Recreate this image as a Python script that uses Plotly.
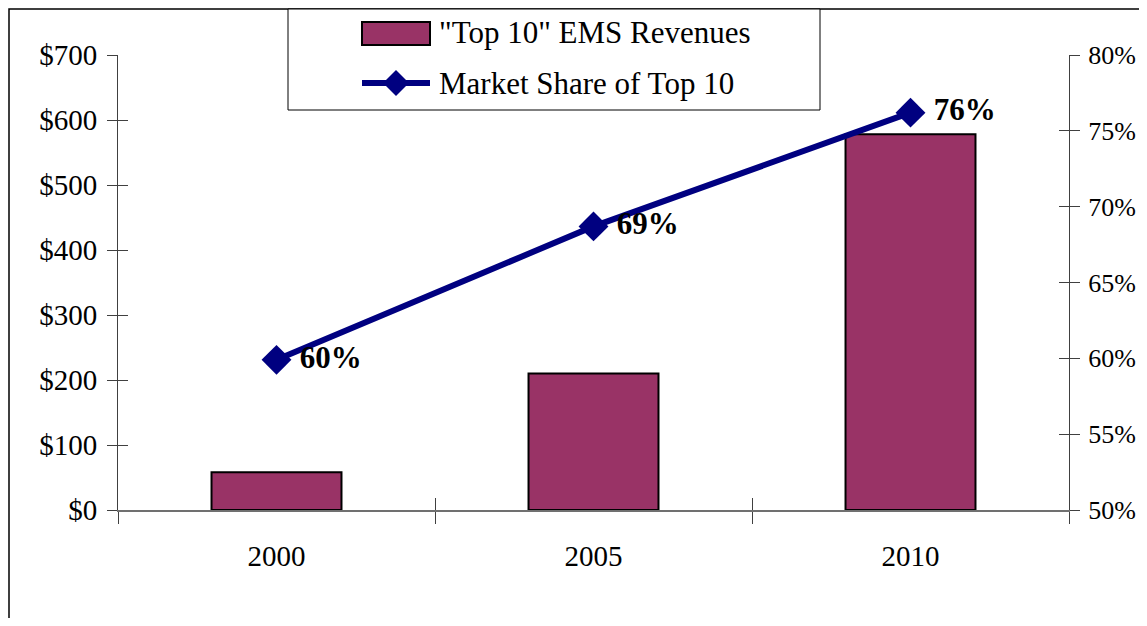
import plotly.graph_objects as go

years = ["2000", "2005", "2010"]
revenues = [58, 210, 578]
share = [59.9, 68.7, 76.2]
share_labels = ["60%", "69%", "76%"]
bar_name = '"Top 10" EMS Revenues'
line_name = "Market Share of Top 10"

FONT = "Liberation Serif"
BAR_COLOR = "#993366"
LINE_COLOR = "#000080"
FS = 29

# page has an 8px body margin; compensate so the plot lands where intended
OFF = 8
PAGE_W, PAGE_H = 1147, 626
W, H = PAGE_W - 2 * OFF, PAGE_H - 2 * OFF
PL, PT, PR, PB = 118, 55, 1069, 510   # plot area in page coordinates
L, T = PL - OFF, PT - OFF
R, B = OFF + W - PR, OFF + H - PB
PW, PH = PR - PL, PB - PT

def px(x):
    return (x - PL) / PW

def py(y):
    return (PB - y) / PH

fig = go.Figure()
fig.add_trace(go.Bar(
    x=years, y=revenues, name=bar_name,
    marker=dict(color=BAR_COLOR, line=dict(color="black", width=2)),
    showlegend=False, hoverinfo="skip",
))
fig.add_trace(go.Scatter(
    x=years, y=share, name=line_name, yaxis="y2",
    mode="lines+markers+text",
    line=dict(color=LINE_COLOR, width=6),
    marker=dict(symbol="diamond", size=23, color=LINE_COLOR),
    text=share_labels, texttemplate=" %{text}", textposition="middle right",
    textfont=dict(family=FONT, size=31, color="black", weight="bold"),
    showlegend=False, hoverinfo="skip",
))
# invisible traces to carry overlay axes that draw inner halves of crossing ticks
fig.add_trace(go.Scatter(x=years, y=revenues, xaxis="x2", yaxis="y3",
                         mode="markers", marker=dict(opacity=0), showlegend=False, hoverinfo="skip"))
fig.add_trace(go.Scatter(x=years, y=share, xaxis="x2", yaxis="y4",
                         mode="markers", marker=dict(opacity=0), showlegend=False, hoverinfo="skip"))

axcol = "#404040"
fig.update_layout(
    width=W, height=H, autosize=False,
    margin=dict(l=L, r=R, t=T, b=B, pad=0, autoexpand=False),
    paper_bgcolor="white", plot_bgcolor="white",
    font=dict(family=FONT, size=FS, color="black"),
    bargap=0.59,
    xaxis=dict(type="category", range=[-0.5, 2.5], tickson="boundaries",
               ticks="outside", ticklen=12, tickcolor=axcol, tickwidth=1,
               showline=True, linecolor="#707070", linewidth=2, automargin=False,
               showgrid=False, zeroline=False, ticklabelstandoff=19,
               tickfont=dict(family=FONT, size=FS)),
    xaxis2=dict(type="category", range=[-0.5, 2.5], overlaying="x", tickson="boundaries",
                ticks="inside", ticklen=12, tickcolor=axcol, tickwidth=1, automargin=False,
                showticklabels=False, showline=False, showgrid=False, zeroline=False,
                side="bottom"),
    yaxis=dict(range=[0, 700], dtick=100, tickprefix="$",
               ticks="outside", ticklen=10, tickcolor=axcol, tickwidth=1,
               showline=True, linecolor=axcol, linewidth=1, automargin=False,
               showgrid=False, zeroline=False, ticklabelstandoff=4,
               tickfont=dict(family=FONT, size=FS)),
    yaxis2=dict(range=[50, 80], dtick=5, ticksuffix="%", overlaying="y", side="right",
                ticks="outside", ticklen=10, tickcolor=axcol, tickwidth=1,
                showline=True, linecolor=axcol, linewidth=1, automargin=False,
                showgrid=False, zeroline=False, ticklabelstandoff=3,
                tickfont=dict(family=FONT, size=26)),
    yaxis3=dict(range=[0, 700], dtick=100, overlaying="y", side="left",
                ticks="inside", ticklen=10, tickcolor=axcol, tickwidth=1, automargin=False,
                showticklabels=False, showline=False, showgrid=False, zeroline=False),
    yaxis4=dict(range=[50, 80], dtick=5, overlaying="y", side="right",
                ticks="inside", ticklen=10, tickcolor=axcol, tickwidth=1, automargin=False,
                showticklabels=False, showline=False, showgrid=False, zeroline=False),
)

shapes = []
# outer chart border (cropped by the image edges)
shapes.append(dict(type="rect", xref="paper", yref="paper",
                   x0=px(9), x1=px(1170), y0=py(700), y1=py(9),
                   line=dict(color="black", width=1.5), fillcolor="rgba(0,0,0,0)", layer="below"))
# legend box
shapes.append(dict(type="rect", xref="paper", yref="paper",
                   x0=px(288), x1=px(820), y0=py(110), y1=py(9),
                   line=dict(color="black", width=1), fillcolor="white"))
# legend bar swatch
shapes.append(dict(type="rect", xref="paper", yref="paper",
                   x0=px(362), x1=px(430), y0=py(45), y1=py(22),
                   line=dict(color="black", width=2), fillcolor=BAR_COLOR))
# legend line swatch
shapes.append(dict(type="line", xref="paper", yref="paper",
                   x0=px(362), x1=px(430), y0=py(83), y1=py(83),
                   line=dict(color=LINE_COLOR, width=6)))
cx, cy, hs = 396, 83, 13
shapes.append(dict(type="path", xref="paper", yref="paper",
                   path=f"M {px(cx-hs)},{py(cy)} L {px(cx)},{py(cy-hs)} L {px(cx+hs)},{py(cy)} L {px(cx)},{py(cy+hs)} Z",
                   line=dict(color=LINE_COLOR, width=0), fillcolor=LINE_COLOR))
fig.update_layout(shapes=shapes)

fig.add_annotation(xref="paper", yref="paper", x=px(437), y=py(33), xanchor="left", yanchor="middle",
                   text=bar_name, showarrow=False, font=dict(family=FONT, size=31, color="black"))
fig.add_annotation(xref="paper", yref="paper", x=px(437), y=py(83), xanchor="left", yanchor="middle",
                   text=line_name, showarrow=False, font=dict(family=FONT, size=31, color="black"))

fig.write_html("out.html")
